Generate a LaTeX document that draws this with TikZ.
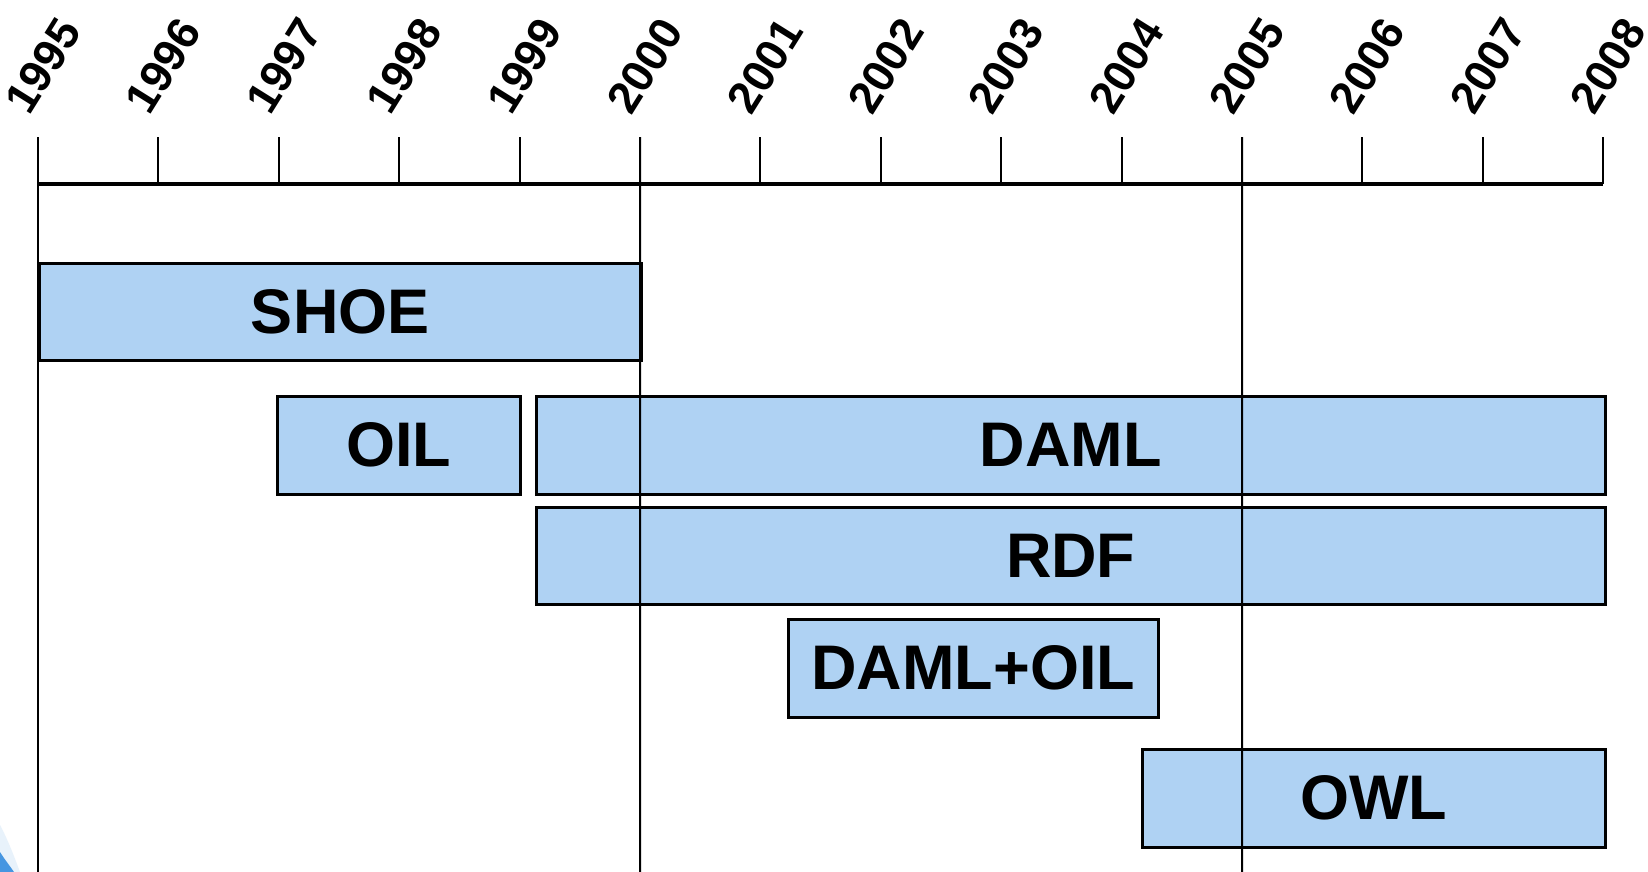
\documentclass[tikz,border=0pt]{standalone}
\usepackage{fontspec}
\setmainfont{Liberation Sans}
\definecolor{barfill}{RGB}{175,210,243}
\definecolor{blobblue}{RGB}{70,150,225}
\definecolor{blobpale}{RGB}{232,242,251}
\begin{document}
\begin{tikzpicture}[x=1pt,y=-1pt,
  bar/.style={draw=black, line width=2.5pt, fill=barfill, inner sep=0pt, anchor=north west},
  barlabel/.style={font=\fontsize{63}{70}\selectfont\bfseries, inner sep=0pt},
  yearlabel/.style={anchor=south west, rotate=58, inner sep=0pt,
    font=\fontsize{45}{50}\selectfont\bfseries},
  tickline/.style={line width=2pt, black},
  axisline/.style={line width=4.5pt, black},
  longline/.style={line width=2pt, black}]
\useasboundingbox (0,0) rectangle (1648,872);
\fill[white] (0,0) rectangle (1648,872);
% corner blob
\fill[blobpale] (0,825) .. controls (8,840) and (14,856) .. (20,872) -- (0,872) -- cycle;
\fill[blobblue] (0,852) .. controls (5,860) and (10,866) .. (14,872) -- (0,872) -- cycle;
% tick coordinates and year labels
\foreach \i [evaluate=\i as \xx using 38+120.4*(\i-1995)] in {1995,...,2008} {
  \coordinate (t\i) at (\xx,137);
  \coordinate (a\i) at (\xx,184);
  \node[yearlabel] (y\i) at (\xx-8,117) {\i};
}
% bars
\node[bar, minimum width=602pt, minimum height=97pt] (shoe) at (38,262) {};
\node[barlabel] at (shoe.center) {SHOE};
\node[bar, minimum width=243pt, minimum height=98pt] (oil) at (276,395) {};
\node[barlabel] at (oil.center) {OIL};
\node[bar, minimum width=1069pt, minimum height=98pt] (daml) at (535,395) {};
\node[barlabel] at (daml.center) {DAML};
\node[bar, minimum width=1069pt, minimum height=97pt] (rdf) at (535,506) {};
\node[barlabel] at (rdf.center) {RDF};
\node[bar, minimum width=370pt, minimum height=98pt] (damloil) at (787,618) {};
\node[barlabel] at (damloil.center) {DAML+OIL};
\node[bar, minimum width=463pt, minimum height=98pt] (owl) at (1141,748) {};
\node[barlabel] at (owl.center) {OWL};
% long vertical lines
\coordinate (b1995) at (38,872);
\coordinate (b2000) at (640,872);
\coordinate (b2005) at (1242,872);
\foreach \i in {1995,2000,2005} { \draw[longline] (t\i) -- (b\i); }
% ticks
\foreach \i in {1996,1997,1998,1999,2001,2002,2003,2004,2006,2007,2008} { \draw[tickline] (t\i) -- (a\i); }
% axis
\draw[axisline] (a1995) -- (a2008);
\end{tikzpicture}
\end{document}
